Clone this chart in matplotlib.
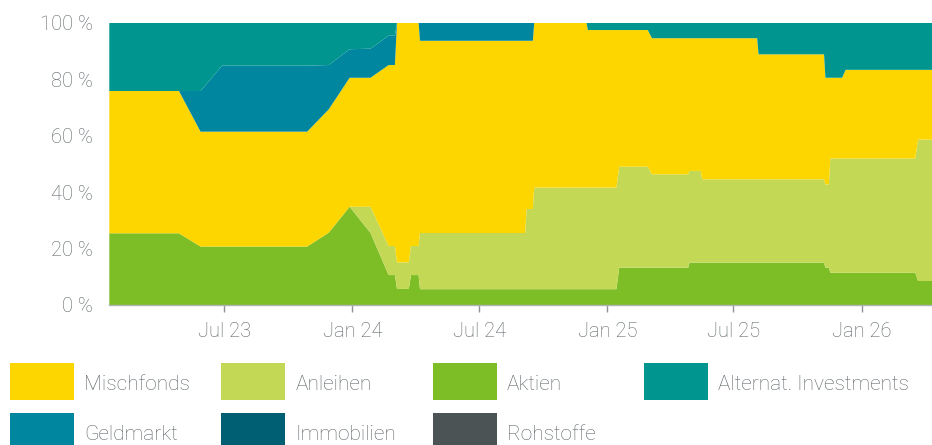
import numpy as np
import pandas as pd
import matplotlib
matplotlib.use("Agg")
import matplotlib.pyplot as plt
import matplotlib.dates as mdates
from matplotlib.patches import Rectangle

plt.rcParams['font.family'] = ['Roboto', 'DejaVu Sans']

# Stichtage und Anteile in %
dates = ["2023-01-17", "2023-04-27", "2023-05-28", "2023-06-28", "2023-10-28",
         "2023-11-28", "2023-12-28", "2024-01-27", "2024-02-22", "2024-03-02",
         "2024-03-05", "2024-03-22", "2024-03-25", "2024-04-05", "2024-04-07",
         "2024-09-05", "2024-09-07", "2024-09-16", "2024-09-18", "2024-12-02",
         "2024-12-04", "2025-01-14", "2025-01-18", "2025-02-28", "2025-03-06",
         "2025-04-27", "2025-04-29", "2025-05-15", "2025-05-17", "2025-08-04",
         "2025-08-06", "2025-11-08", "2025-11-10", "2025-11-15", "2025-11-17",
         "2025-12-04", "2025-12-09", "2026-03-19", "2026-03-23", "2026-04-12"]

aktien = [25.4, 25.4, 20.7, 20.7, 20.7, 25.6, 34.8, 25.5, 10.6, 10.6,
          5.7, 5.7, 10.6, 10.6, 5.6, 5.6, 5.6, 5.6, 5.6, 5.6,
          5.6, 5.6, 13.2, 13.2, 13.2, 13.2, 15.0, 15.0, 15.0, 15.0,
          15.0, 15.0, 13.2, 13.2, 11.4, 11.4, 11.4, 11.4, 8.5, 8.5]
anleihen = [0, 0, 0, 0, 0, 0, 0, 9.3, 10.3, 10.3,
            9.4, 9.4, 10.3, 10.3, 19.9, 19.9, 28.4, 28.4, 36.0, 36.0,
            36.0, 36.0, 35.8, 35.8, 33.1, 33.1, 32.5, 32.5, 29.5, 29.5,
            29.5, 29.5, 29.5, 29.5, 40.5, 40.5, 40.5, 40.5, 50.1, 50.1]
mischfonds = [50.4, 50.4, 40.7, 40.7, 40.7, 43.7, 45.7, 45.7, 64.1, 64.1,
              84.9, 84.9, 79.1, 79.1, 68.1, 68.1, 59.6, 59.6, 58.4, 58.4,
              55.8, 55.8, 48.4, 48.4, 48.2, 48.2, 47.0, 47.0, 50.0, 50.0,
              44.3, 44.3, 37.8, 37.8, 28.6, 28.6, 31.4, 31.4, 24.7, 24.7]
geldmarkt = [0, 0, 14.4, 23.4, 23.4, 15.7, 10.1, 10.3, 10.4, 10.4,
             0, 0, 0, 0, 6.4, 6.4, 6.4, 6.4, 0, 0,
             0, 0, 0, 0, 0, 0, 0, 0, 0, 0,
             0, 0, 0, 0, 0, 0, 0, 0, 0, 0]
immobilien = [0] * len(dates)
rohstoffe = [0] * len(dates)
alternat = [24.2, 24.2, 24.2, 15.2, 15.2, 15.0, 9.4, 9.2, 4.6, 4.6,
            0, 0, 0, 0, 0, 0, 0, 0, 0, 0,
            2.6, 2.6, 2.6, 2.6, 5.5, 5.5, 5.5, 5.5, 5.5, 5.5,
            11.2, 11.2, 19.5, 19.5, 19.5, 19.5, 16.7, 16.7, 16.7, 16.7]

c_misch = "#fdd600"
c_anl = "#c3d855"
c_akt = "#7dbd26"
c_alt = "#00968f"
c_geld = "#00869e"
c_immo = "#005f73"
c_roh = "#4b5354"
txt = "#5b6366"

x = pd.to_datetime(dates)

fig = plt.figure(figsize=(9.32, 4.45), dpi=100)
ax = fig.add_axes([109.3 / 932, 1 - 305 / 445, 1 - 109.3 / 932, (305 - 22.7) / 445])

ax.stackplot(x, aktien, anleihen, mischfonds, geldmarkt, immobilien, rohstoffe, alternat,
             colors=[c_akt, c_anl, c_misch, c_geld, c_immo, c_roh, c_alt],
             linewidth=0)

ax.set_xlim(x[0], x[-1])
ax.set_ylim(0, 100)
ax.set_yticks(range(0, 101, 20))
ax.set_yticklabels([f"{v} %" for v in range(0, 101, 20)])
ax.xaxis.set_major_locator(mdates.MonthLocator(bymonth=[1, 7]))
ax.xaxis.set_major_formatter(mdates.DateFormatter("%b %y"))

for s in ["top", "right", "left"]:
    ax.spines[s].set_visible(False)
ax.spines["bottom"].set_color("#b0b4b6")
ax.spines["bottom"].set_linewidth(1)
ax.tick_params(axis="y", length=0, pad=11.5, labelsize=14.5, labelcolor=txt)
ax.tick_params(axis="x", length=5, width=1, color="#8c9295", pad=7,
               labelsize=14.5, labelcolor=txt)
for lab in ax.get_xticklabels() + ax.get_yticklabels():
    lab.set_fontweight("light")

# Legende: feste Raster-Positionen wie im Original
leg_labels = ["Mischfonds", "Anleihen", "Aktien", "Alternat. Investments",
              "Geldmarkt", "Immobilien", "Rohstoffe"]
leg_colors = [c_misch, c_anl, c_akt, c_alt, c_geld, c_immo, c_roh]
W, H = 932, 445
for i, (lab, col) in enumerate(zip(leg_labels, leg_colors)):
    r, c = divmod(i, 4)
    x0 = 10 + c * 211.3
    y0 = 363 + r * 50
    fig.add_artist(Rectangle((x0 / W, 1 - (y0 + 37) / H), 64 / W, 37 / H,
                             transform=fig.transFigure, color=col, lw=0))
    fig.text((x0 + 74) / W, 1 - (y0 + 22) / H, lab, fontsize=15,
             fontweight="light", color=txt, va="center", ha="left")

fig.savefig("out.png", dpi=100)
